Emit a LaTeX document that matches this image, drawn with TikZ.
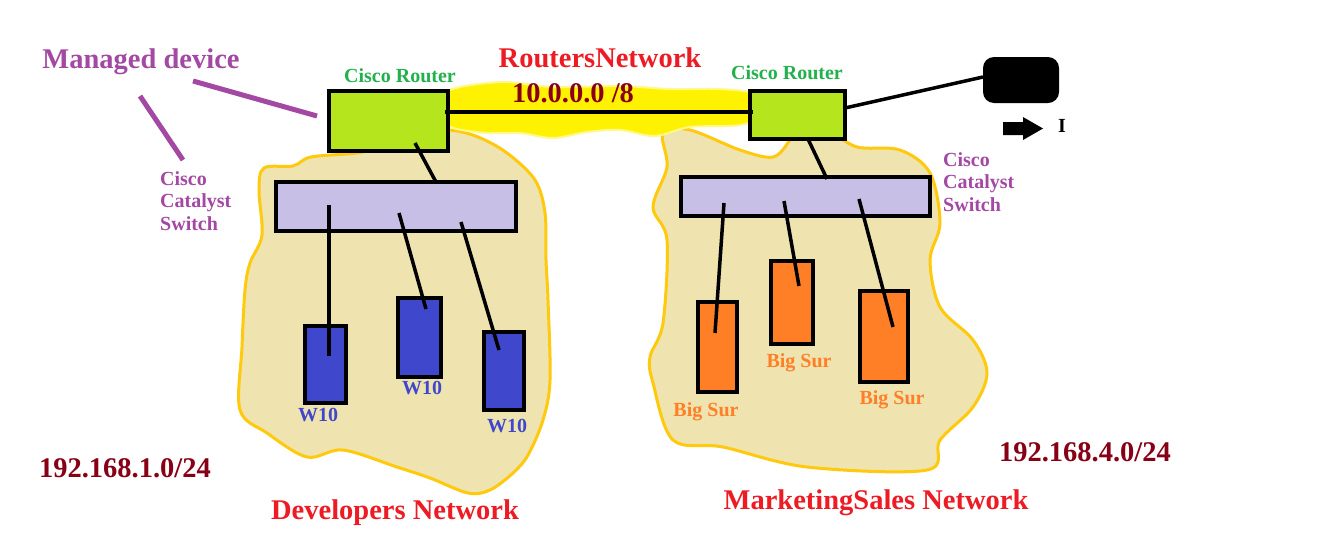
\documentclass[tikz,border=0pt]{standalone}
\usepackage{fontspec}
\setmainfont{Liberation Serif}
\definecolor{mpurple}{HTML}{A349A4}
\definecolor{cgreen}{HTML}{22B14C}
\definecolor{nred}{HTML}{ED1C24}
\definecolor{ipred}{HTML}{880015}
\definecolor{routerg}{HTML}{B5E61D}
\definecolor{switchl}{HTML}{C8BFE7}
\definecolor{blobfill}{HTML}{EFE4B0}
\definecolor{blobline}{HTML}{FFC90E}
\definecolor{hiyel}{HTML}{FFF200}
\definecolor{wblue}{HTML}{3F48CC}
\definecolor{borange}{HTML}{FF7F27}
\begin{document}
\begin{tikzpicture}[x=1pt,y=-1pt,
  box/.style={draw=black, line width=3.5pt, inner sep=0pt, outer sep=0pt},
  wire/.style={line width=3.5pt, draw=black},
  pline/.style={line width=5pt, draw=mpurple},
  big/.style={font=\fontsize{28.5}{30}\selectfont\bfseries, inner sep=0pt, text depth=0pt},
  small/.style={font=\fontsize{20}{22.5}\selectfont\bfseries, inner sep=0pt, text depth=0pt},
  blob/.style={fill=blobfill, draw=blobline, line width=3pt}]
\useasboundingbox (0,0) rectangle (1338,555);
\fill[white] (0,0) rectangle (1338,555);

% network blobs
\path[blob] plot[smooth cycle, tension=0.55] coordinates {
 (264,168) (293,166) (311,157) (357,153) (380,147) (398,138) (408,130) (450,130)
 (478,137) (507,153) (535,180) (545,213) (546,260) (548,300) (550,380) (543,420)
 (528,455) (513,473) (490,490) (468,493) (430,478) (397,467) (343,450) (307,457)
 (267,433) (240,410) (242,347) (245,290) (250,263) (262,235) (259,190)};
\path[blob] plot[smooth cycle, tension=0.55] coordinates {
 (663,133) (690,130) (740,150) (773,157) (790,140) (797,127) (827,130) (857,147)
 (900,150) (930,173) (940,223) (930,260) (940,307) (973,340) (987,373) (973,407)
 (940,440) (927,470) (807,467) (723,447) (673,440) (653,383) (650,357) (663,323)
 (667,240) (653,207) (667,167)};

% yellow highlight of the routers network
\path[fill=hiyel, draw=hiyel!45, line width=2pt] plot[smooth cycle, tension=0.55] coordinates {
 (432,104) (452,89) (503,82) (553,87) (620,86) (670,89) (720,89) (755,94) (768,113)
 (740,125) (690,127) (655,136) (620,130) (587,132) (553,138) (520,133) (487,133)
 (453,128) (436,117)};

% devices
\node[box, fill=routerg, minimum width=119, minimum height=60] (r1) at (388.5,121) {};
\node[box, fill=routerg, minimum width=95, minimum height=48] (r2) at (797.5,115) {};
\node[box, fill=switchl, minimum width=240, minimum height=49] (s1) at (396,206.5) {};
\node[box, fill=switchl, minimum width=249, minimum height=39] (s2) at (805.5,196.5) {};
\node[box, fill=wblue, minimum width=41, minimum height=77] (w1) at (325.5,364.5) {};
\node[box, fill=wblue, minimum width=43, minimum height=79] (w2) at (419.5,337.5) {};
\node[box, fill=wblue, minimum width=40, minimum height=78] (w3) at (504,371) {};
\node[box, fill=borange, minimum width=39, minimum height=90] (b1) at (717.5,347) {};
\node[box, fill=borange, minimum width=42, minimum height=83] (b2) at (792,302.5) {};
\node[box, fill=borange, minimum width=48, minimum height=91] (b3) at (884,336.5) {};
\node[fill=black, rounded corners=11pt, minimum width=76, minimum height=46, inner sep=0pt] (cloud) at (1021,80) {};

% connector end points
\coordinate (l1) at (445,112);  \coordinate (l2) at (753,112);
\coordinate (r1s) at (415,143); \coordinate (s1r) at (436,182);
\coordinate (r2s) at (808,139); \coordinate (s2r) at (827,179);
\coordinate (r2c) at (845,108); \coordinate (cr) at (983,77);
\coordinate (s1a) at (329,205); \coordinate (w1e) at (329,356);
\coordinate (s1b) at (399,213); \coordinate (w2e) at (426,309);
\coordinate (s1c) at (461,222); \coordinate (w3e) at (499,350);
\coordinate (s2a) at (724,203); \coordinate (b1e) at (715,333);
\coordinate (s2b) at (784,201); \coordinate (b2e) at (799,286);
\coordinate (s2c) at (859,199); \coordinate (b3e) at (893,327);
\coordinate (p1a) at (193,81);  \coordinate (p1b) at (317,116);
\coordinate (p2a) at (140,96);  \coordinate (p2b) at (183,160);

% connectors
\draw[wire] (l1) -- (l2);
\draw[wire] (r1s) -- (s1r);
\draw[wire] (r2s) -- (s2r);
\draw[wire] (r2c) -- (cr);
\draw[wire] (s1a) -- (w1e);
\draw[wire] (s1b) -- (w2e);
\draw[wire] (s1c) -- (w3e);
\draw[wire] (s2a) -- (b1e);
\draw[wire] (s2b) -- (b2e);
\draw[wire] (s2c) -- (b3e);
\draw[pline] (p1a) -- (p1b);
\draw[pline] (p2a) -- (p2b);

% internet arrow
\fill[black] (1003,122) -- (1023,122) -- (1023,117) -- (1043,128.5) -- (1023,140) -- (1023,135) -- (1003,135) -- cycle;
\node[small, text=black] (inet) at (1062,126) {I};

% labels
\node[big, text=mpurple] (md) at (141,59) {Managed device};
\node[small, text=cgreen] (cr1) at (400,76) {Cisco Router};
\node[small, text=cgreen] (cr2) at (787,73) {Cisco Router};
\node[big, text=nred] (rn) at (600,58) {RoutersNetwork};
\node[big, text=ipred] (rip) at (573,93) {10.0.0.0 /8};
\node[small, text=mpurple, align=left, anchor=west] (cs1) at (160,201) {Cisco\\Catalyst\\Switch};
\node[small, text=mpurple, align=left, anchor=west] (cs2) at (943,182) {Cisco\\Catalyst\\Switch};
\node[small, text=wblue] (wl1) at (318,415) {W10};
\node[small, text=wblue] (wl2) at (422,388) {W10};
\node[small, text=wblue] (wl3) at (507,426) {W10};
\node[small, text=borange] (bl1) at (706,410) {Big Sur};
\node[small, text=borange] (bl2) at (799,361) {Big Sur};
\node[small, text=borange] (bl3) at (892,398) {Big Sur};
\node[big, text=ipred] (ip1) at (125,468) {192.168.1.0/24};
\node[big, text=ipred] (ip4) at (1085,452) {192.168.4.0/24};
\node[big, text=nred] (dn) at (395,510) {Developers Network};
\node[big, text=nred] (mn) at (876,500) {MarketingSales Network};
\end{tikzpicture}
\end{document}
